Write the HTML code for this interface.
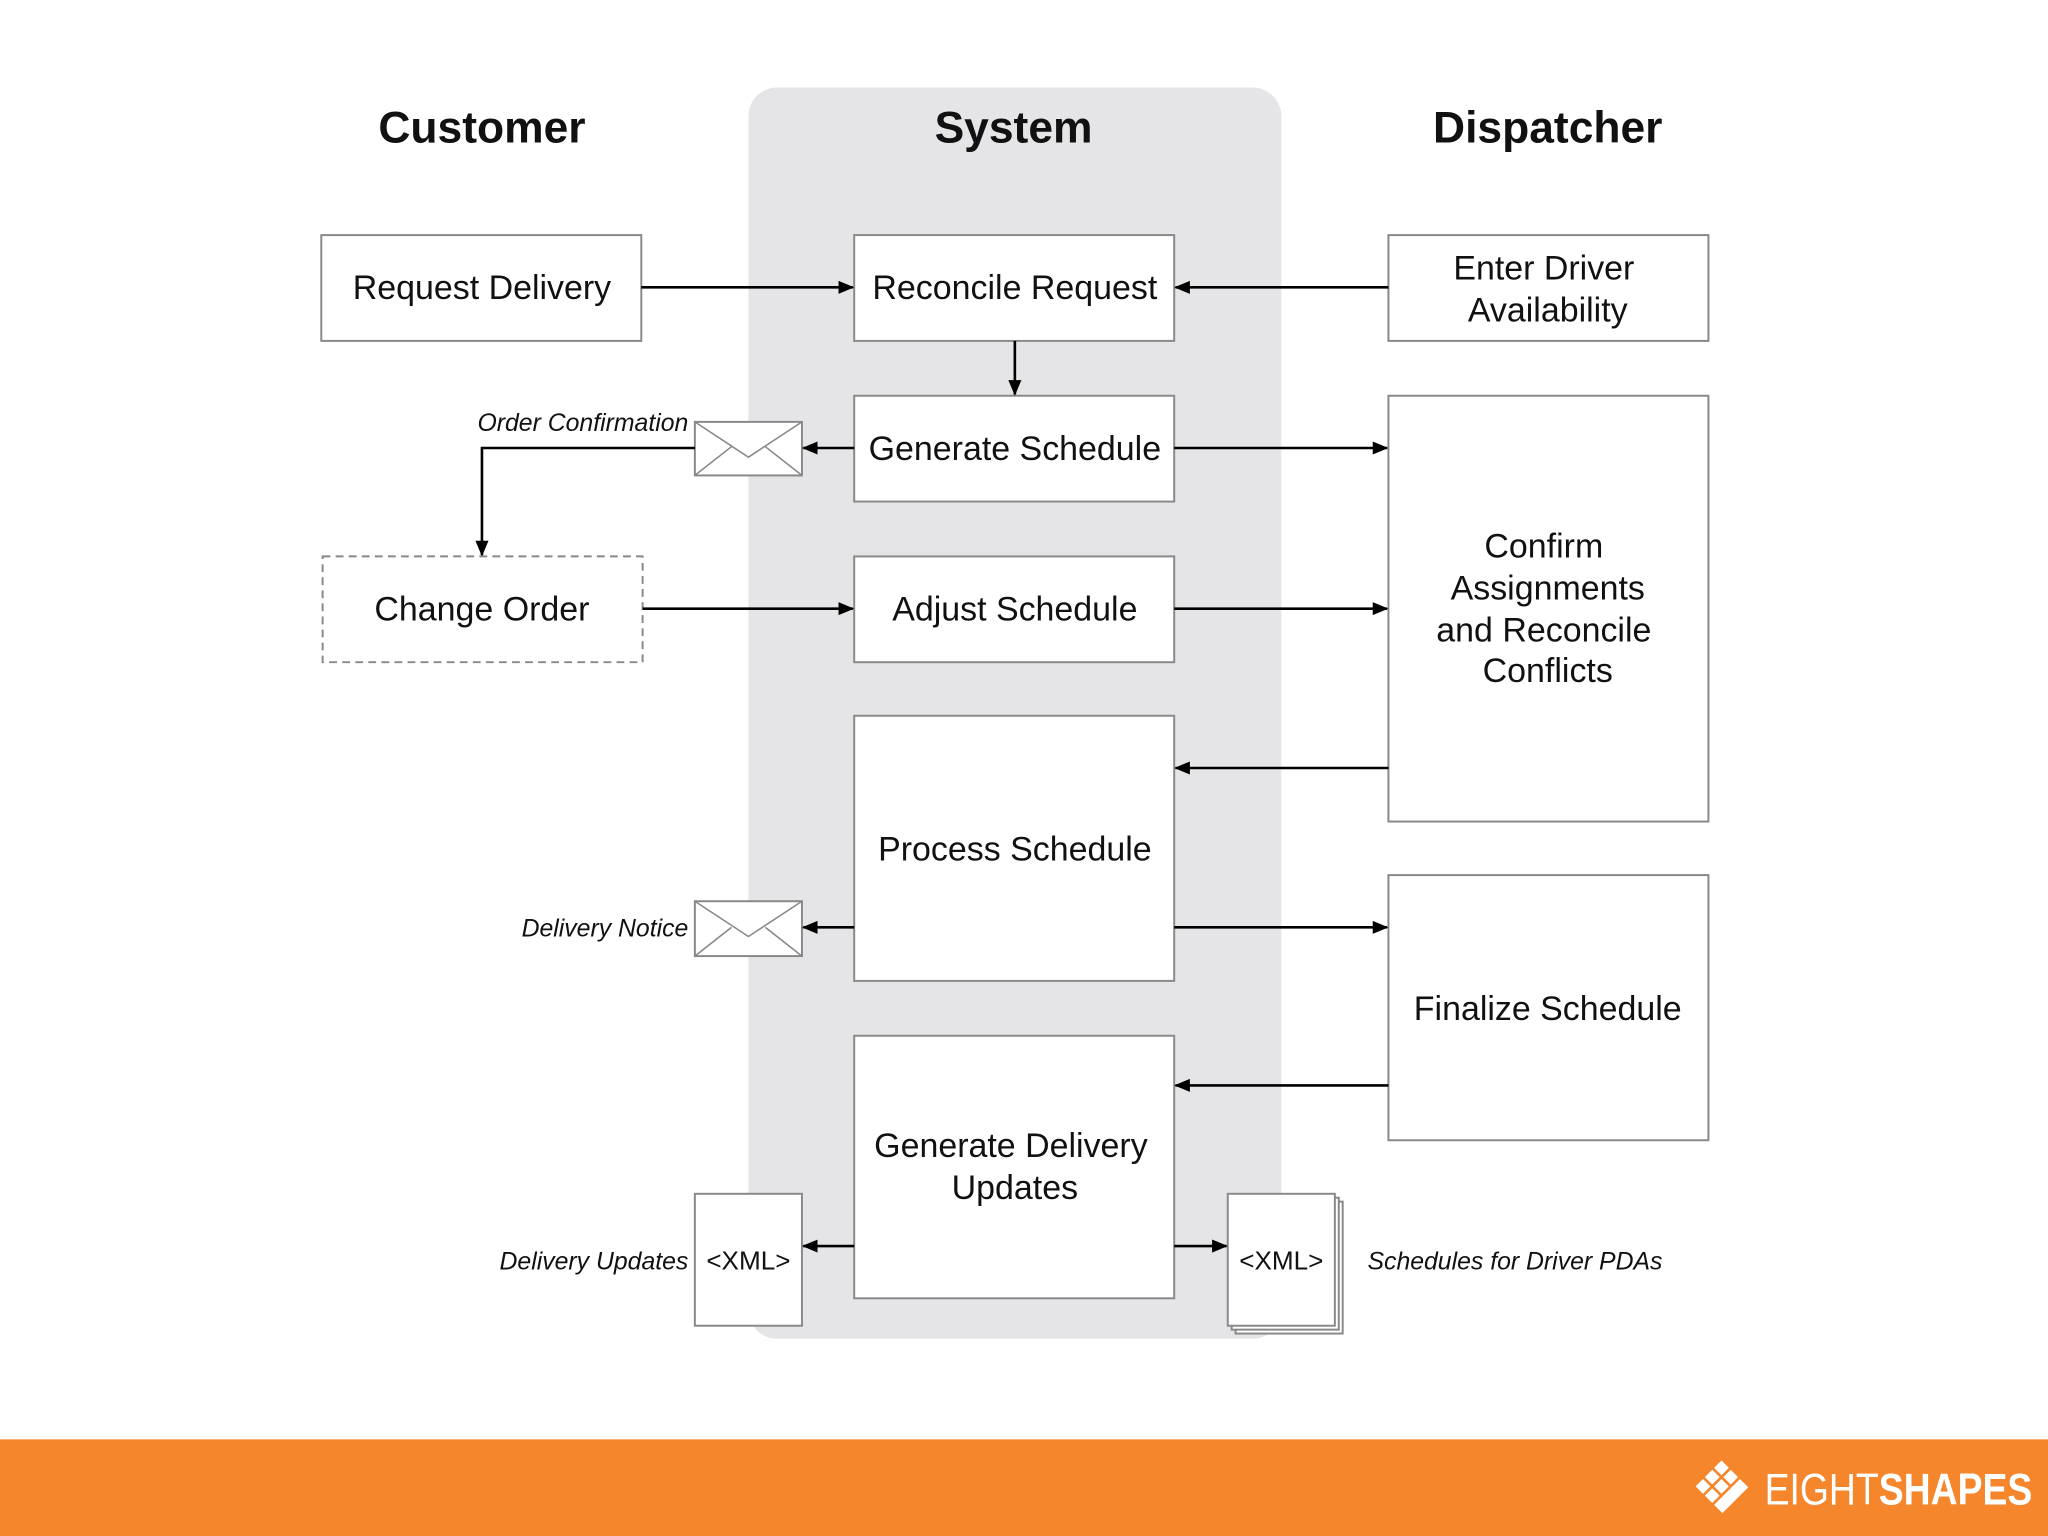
<!DOCTYPE html>
<html><head><meta charset="utf-8"><style>
html,body{margin:0;padding:0;background:#fff;}
svg{display:block}
text{font-family:"Liberation Sans",Arial,sans-serif;fill:#111}
</style></head><body>
<svg width="2048" height="1536" viewBox="0 0 1568 1176" xmlns="http://www.w3.org/2000/svg">
<defs>
<marker id="a" markerWidth="12" markerHeight="12" refX="11" refY="6" orient="auto" markerUnits="userSpaceOnUse">
<path d="M0,1 L12,6 L0,11 Z" fill="#000"/></marker>
</defs>
<rect width="1568" height="1176" fill="#fff"/>
<rect x="573" y="67" width="408" height="958" rx="22" fill="#e5e5e7"/>
<g font-weight="bold" font-size="34" text-anchor="middle">
<text x="369" y="109">Customer</text>
<text x="776" y="109">System</text>
<text x="1185" y="109">Dispatcher</text>
</g>
<g fill="#fff" stroke="#888" stroke-width="1.5">
<rect x="246" y="180" width="245" height="81"/>
<rect x="654" y="180" width="245" height="81"/>
<rect x="1063" y="180" width="245" height="81"/>
<rect x="654" y="303" width="245" height="81"/>
<rect x="247" y="426" width="245" height="81" stroke-dasharray="6,4"/>
<rect x="654" y="426" width="245" height="81"/>
<rect x="1063" y="303" width="245" height="326"/>
<rect x="654" y="548" width="245" height="203"/>
<rect x="1063" y="670" width="245" height="203"/>
<rect x="654" y="793" width="245" height="201"/>
<rect x="532" y="323" width="82" height="41"/>
<rect x="532" y="690" width="82" height="42"/>
<rect x="532" y="914" width="82" height="101"/>
<rect x="946" y="920" width="82" height="101"/>
<rect x="943" y="917" width="82" height="101"/>
<rect x="940" y="914" width="82" height="101"/>
</g>
<g stroke="#888" stroke-width="1.2" fill="none">
<path d="M532,323 L573,350 L614,323 M532,364 L560,342 M614,364 L586,342"/>
<path d="M532,690 L573,717 L614,690 M532,732 L560,710 M614,732 L586,710"/>
</g>
<g font-size="26" text-anchor="middle">
<text x="369" y="229">Request Delivery</text>
<text x="777" y="229">Reconcile Request</text>
<text x="1182" y="214">Enter Driver</text>
<text x="1185" y="246">Availability</text>
<text x="777" y="352">Generate Schedule</text>
<text x="369" y="475">Change Order</text>
<text x="777" y="475">Adjust Schedule</text>
<text x="1182" y="427">Confirm</text>
<text x="1185" y="459">Assignments</text>
<text x="1182" y="491">and Reconcile</text>
<text x="1185" y="522">Conflicts</text>
<text x="777" y="659">Process Schedule</text>
<text x="1185" y="781">Finalize Schedule</text>
<text x="774" y="886">Generate Delivery</text>
<text x="777" y="918">Updates</text>
<text x="573" y="972" font-size="20">&lt;XML&gt;</text>
<text x="981" y="972" font-size="20">&lt;XML&gt;</text>
</g>
<g font-size="19" font-style="italic">
<text x="527" y="330" text-anchor="end">Order Confirmation</text>
<text x="527" y="717" text-anchor="end">Delivery Notice</text>
<text x="527" y="972" text-anchor="end">Delivery Updates</text>
<text x="1047" y="972">Schedules for Driver PDAs</text>
</g>
<g stroke="#000" stroke-width="2" fill="none" marker-end="url(#a)">
<path d="M491,220 L653,220"/>
<path d="M1063,220 L900,220"/>
<path d="M777,261 L777,302"/>
<path d="M654,343 L615,343"/>
<path d="M532,343 L369,343 L369,425"/>
<path d="M899,343 L1062,343"/>
<path d="M492,466 L653,466"/>
<path d="M899,466 L1062,466"/>
<path d="M1063,588 L900,588"/>
<path d="M654,710 L615,710"/>
<path d="M899,710 L1062,710"/>
<path d="M1063,831 L900,831"/>
<path d="M654,954 L615,954"/>
<path d="M899,954 L939,954"/>
</g>
<rect x="0" y="1102" width="1568" height="74" fill="#f5862b"/>
<g fill="#fff" transform="translate(1318,1138) rotate(45)">
<rect x="-14" y="-14" width="8" height="8"/><rect x="-4" y="-14" width="8" height="8"/>
<rect x="-14" y="-4" width="8" height="8"/><rect x="-4" y="-4" width="8" height="8"/>
<rect x="-14" y="6" width="8" height="8"/><rect x="-4" y="6" width="8" height="8"/>
<rect x="6" y="-14" width="9" height="28"/>
</g>
<text x="1351" y="1152" font-size="34" style="fill:#fff" textLength="205" lengthAdjust="spacingAndGlyphs">EIGHT<tspan font-weight="bold">SHAPES</tspan></text>
</svg>
</body></html>
